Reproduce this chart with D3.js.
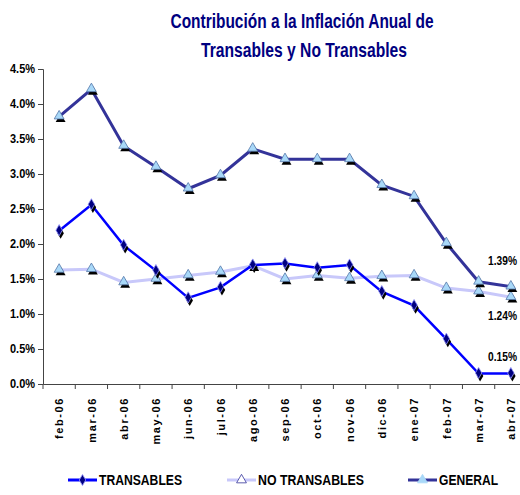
<!DOCTYPE html>
<html>
<head>
    <meta charset="UTF-8">
    <title>Contribucion inflacion</title>
    <script src="https://d3js.org/d3.v7.min.js"></script>
    <style>
        body { margin: 0; background: #fff; overflow: hidden; }
        text { font-family: "Liberation Sans", Arial, sans-serif; font-weight: bold; }
    </style>
</head>
<body>
    <svg id="chart"></svg>
    <script>
        // ---- data ----
        var months = ["feb-06", "mar-06", "abr-06", "may-06", "jun-06", "jul-06", "ago-06",
            "sep-06", "oct-06", "nov-06", "dic-06", "ene-07", "feb-07", "mar-07", "abr-07"];
        var transables = [2.19, 2.56, 1.98, 1.62, 1.23, 1.38, 1.70, 1.72, 1.66, 1.70, 1.32, 1.12, 0.64, 0.15, 0.15];
        var noTransables = [1.63, 1.64, 1.45, 1.50, 1.55, 1.60, 1.69, 1.50, 1.55, 1.51, 1.54, 1.55, 1.37, 1.32, 1.24];
        var general = [3.82, 4.21, 3.40, 3.10, 2.79, 2.98, 3.36, 3.21, 3.21, 3.21, 2.84, 2.68, 2.01, 1.46, 1.39];
        var yTicks = [0, 0.5, 1, 1.5, 2, 2.5, 3, 3.5, 4, 4.5];

        var width = 520, height = 495;
        var pLeft = 43, pRight = 527, pTop = 69, pBottom = 384;

        var svg = d3.select("#chart").attr("width", width).attr("height", height)
            .style("display", "block");

        var x = d3.scaleBand().domain(months).range([pLeft, pRight]);
        var y = d3.scaleLinear().domain([0, 4.5]).range([pBottom, pTop]);

        // title
        svg.append("text")
            .attr("x", 302).attr("y", 28)
            .attr("text-anchor", "middle")
            .attr("font-size", 20).attr("fill", "#000080")
            .attr("textLength", 263).attr("lengthAdjust", "spacingAndGlyphs")
            .text("Contribución a la Inflación Anual de");
        svg.append("text")
            .attr("x", 304).attr("y", 57)
            .attr("text-anchor", "middle")
            .attr("font-size", 20).attr("fill", "#000080")
            .attr("textLength", 206).attr("lengthAdjust", "spacingAndGlyphs")
            .text("Transables y No Transables");

        // y axis
        var yAxis = svg.append("g")
            .attr("transform", "translate(" + pLeft + ",0)")
            .call(d3.axisLeft(y).tickValues(yTicks).tickSize(5).tickPadding(3)
                .tickFormat(function(d) { return d.toFixed(1) + "%"; }));
        yAxis.select(".domain").attr("stroke", "#444");
        yAxis.selectAll(".tick line").attr("stroke", "#444");
        yAxis.selectAll(".tick text")
            .attr("font-size", 12).attr("fill", "#000")
            .attr("textLength", 25).attr("lengthAdjust", "spacingAndGlyphs");

        // x axis
        var xAxis = svg.append("g")
            .attr("transform", "translate(0," + pBottom + ")")
            .call(d3.axisBottom(x).tickSize(0).tickPadding(0));
        xAxis.select(".domain").attr("stroke", "#444");
        xAxis.selectAll(".tick text")
            .attr("font-size", 11).attr("fill", "#000")
            .attr("letter-spacing", 1.6)
            .attr("text-anchor", "end")
            .attr("transform", "rotate(-90)")
            .attr("x", -13).attr("y", 0).attr("dy", "0.38em");

        // boundary ticks between months
        var edges = months.map(function(m) { return x(m); }).concat([x.range()[1]]);
        xAxis.selectAll(".edge")
            .data(edges)
            .enter().append("line")
            .attr("x1", function(d) { return d; })
            .attr("x2", function(d) { return d; })
            .attr("y1", 0).attr("y2", 5)
            .attr("stroke", "#444");

        function cx(d, i) { return x(months[i]) + x.bandwidth() / 2; }

        var series = [
            { name: "NO TRANSABLES", values: noTransables, color: "#C8C8FA", width: 3, marker: "triangle" },
            { name: "GENERAL", values: general, color: "#333399", width: 3, marker: "triangle" },
            { name: "TRANSABLES", values: transables, color: "#0000FF", width: 2.5, marker: "diamond" }
        ];

        var line = d3.line()
            .x(function(d, i) { return cx(d, i); })
            .y(function(d) { return y(d); });

        var triangle = d3.symbol().type(d3.symbolTriangle).size(42);
        var diamond = d3.symbol().type(d3.symbolDiamond).size(36);

        series.forEach(function(s) {
            svg.append("path")
                .datum(s.values)
                .attr("d", line)
                .attr("fill", "none")
                .attr("stroke", s.color)
                .attr("stroke-width", s.width);

            var sym = s.marker == "triangle" ? triangle : diamond;
            // shadow
            svg.append("g").selectAll("path")
                .data(s.values)
                .enter().append("path")
                .attr("d", sym)
                .attr("transform", function(d, i) {
                    return "translate(" + (cx(d, i) + 1.5) + "," + (y(d) + 2.5) + ")";
                })
                .attr("fill", "#000");
            svg.append("g").selectAll("path")
                .data(s.values)
                .enter().append("path")
                .attr("d", sym)
                .attr("transform", function(d, i) {
                    return "translate(" + cx(d, i) + "," + (y(d) - 0.5) + ")";
                })
                .attr("fill", s.marker == "triangle" ? "#A8D8F8" : "#000080")
                .attr("stroke", s.marker == "triangle" ? "#5577AA" : "#9999FF")
                .attr("stroke-width", 0.8);
        });

        // end labels (squeezed a little so they stay inside the frame)
        var last = months.length - 1;
        var endLabels = [
            { text: "1.39%", value: general[last], dy: -22 },
            { text: "1.24%", value: noTransables[last], dy: 23 },
            { text: "0.15%", value: transables[last], dy: -13 }
        ];
        endLabels.forEach(function(l) {
            svg.append("text")
                .attr("transform", "translate(517," + (y(l.value) + l.dy) + ") scale(0.85,1)")
                .attr("text-anchor", "end")
                .attr("font-size", 12).attr("fill", "#000")
                .text(l.text);
        });

        // legend
        var legend = [
            { name: "TRANSABLES", x: 68, color: "#0000FF", marker: "diamond", fill: "#000080", stroke: "#9999FF", w: 83 },
            { name: "NO TRANSABLES", x: 227, color: "#C8C8FA", marker: "triangle", fill: "#fff", stroke: "#333399", w: 106 },
            { name: "GENERAL", x: 408, color: "#333399", marker: "triangle", fill: "#A8D8F8", stroke: "#A8D8F8", w: 59 }
        ];
        legend.forEach(function(l) {
            var g = svg.append("g").attr("transform", "translate(" + l.x + ",480)");
            g.append("line")
                .attr("x1", 0).attr("x2", 29).attr("y1", 0).attr("y2", 0)
                .attr("stroke", l.color).attr("stroke-width", 3);
            g.append("path")
                .attr("d", l.marker == "triangle" ? triangle : diamond)
                .attr("transform", "translate(14.5,0)")
                .attr("fill", l.fill).attr("stroke", l.stroke).attr("stroke-width", 0.8);
            g.append("text")
                .attr("x", 31).attr("y", 5)
                .attr("font-size", 14).attr("fill", "#000")
                .attr("textLength", l.w).attr("lengthAdjust", "spacingAndGlyphs")
                .text(l.name);
        });
    </script>
</body>
</html>
